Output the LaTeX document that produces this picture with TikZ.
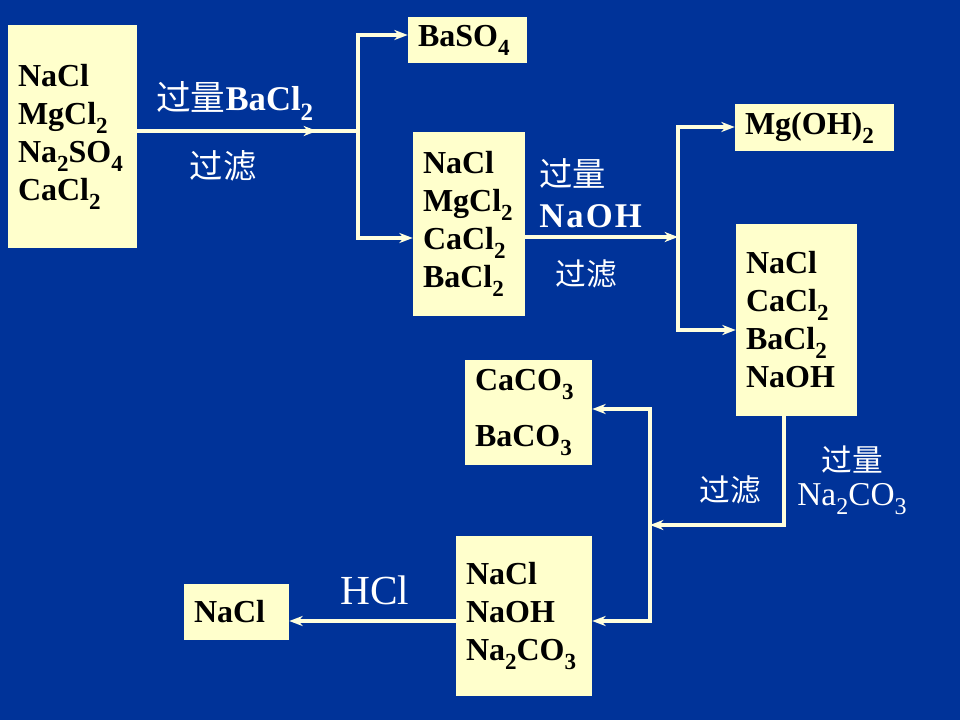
\documentclass[tikz,border=0pt]{standalone}
\usepackage{fontspec}
\usepackage{graphicx}
\setmainfont{Liberation Serif}
\newfontfamily\cjk{Noto Sans CJK SC}
\usetikzlibrary{arrows.meta}
\definecolor{bg}{HTML}{003399}
\definecolor{boxc}{HTML}{FFFFCC}
\definecolor{linec}{HTML}{FFFFDD}
\newcommand{\zh}[1]{{\cjk\mdseries #1}}
\newcommand{\sbs}[1]{\raisebox{-0.28em}{\scalebox{0.72}{#1}}}
\begin{document}
\begin{tikzpicture}[x=0.75pt,y=-0.75pt,
  box/.style={fill=boxc, draw=none, inner xsep=7.5pt, inner ysep=0pt, align=left,
    font=\fontsize{24}{28.5}\selectfont\bfseries, text=black},
  lbl/.style={text=white, inner sep=0pt, font=\fontsize{25}{30}\selectfont\bfseries},
  conn/.style={draw=linec, line width=2.8pt},
  arr/.style={conn, -{Stealth[length=10pt,width=7.5pt,inset=3pt]}}]
\fill[bg] (0,0) rectangle (960,720);
\useasboundingbox (0,0) rectangle (960,720);

% boxes
\node[box, minimum width=96.75pt, text width=81.75pt, minimum height=167.25pt] (A) at (72.5,136.5)
  {NaCl\\MgCl\sbs{2}\\Na\sbs{2}SO\sbs{4}\\CaCl\sbs{2}};
\node[box, minimum width=89.25pt, text width=74.25pt, minimum height=34.5pt] (S) at (467.5,40)
  {BaSO\sbs{4}};
\node[box, minimum width=84pt, text width=69pt, minimum height=138pt] (B) at (469,224)
  {NaCl\\MgCl\sbs{2}\\CaCl\sbs{2}\\BaCl\sbs{2}};
\node[box, minimum width=119.25pt, text width=104.25pt, minimum height=35.25pt] (M) at (814.5,127.5)
  {Mg(OH)\sbs{2}};
\node[box, minimum width=90.75pt, text width=75.75pt, minimum height=144pt] (C) at (796.5,320)
  {NaCl\\CaCl\sbs{2}\\BaCl\sbs{2}\\NaOH};
\node[box, minimum width=95.25pt, text width=80.25pt, minimum height=78.75pt,
  font=\fontsize{24}{42}\selectfont\bfseries] (P) at (528.5,412.5)
  {CaCO\sbs{3}\\BaCO\sbs{3}};
\node[box, minimum width=102pt, text width=87pt, minimum height=120pt] (D) at (524,616)
  {NaCl\\NaOH\\Na\sbs{2}CO\sbs{3}};
\node[box, minimum width=78.75pt, text width=63.75pt, minimum height=42pt] (N) at (236.5,612)
  {NaCl};

% junctions
\coordinate (j1) at (358,131);
\coordinate (a1) at (317,131);
\coordinate (j1t) at (358,35);
\coordinate (j1b) at (358,238);
\coordinate (j2) at (678,237);
\coordinate (j2t) at (678,127);
\coordinate (j2b) at (678,330);
\coordinate (c1) at (784,525);
\coordinate (j3) at (650,525);
\coordinate (j3t) at (650,409);
\coordinate (j3b) at (650,621);

% connectors
\draw[conn] (A.east |- j1) -- (j1);
\draw[arr] (A.east |- j1) -- (a1);
\draw[conn, line cap=rect] (j1t) -- (j1b);
\draw[arr] (j1t) -- (S.west |- j1t);
\draw[arr] (j1b) -- (B.west |- j1b);

\draw[arr] (B.east |- j2) -- (j2);
\draw[conn, line cap=rect] (j2t) -- (j2b);
\draw[arr] (j2t) -- (M.west |- j2t);
\draw[arr] (j2b) -- (C.west |- j2b);

\draw[arr] (C.south -| c1) -- (c1) -- (j3);
\draw[conn, line cap=rect] (j3t) -- (j3b);
\draw[arr] (j3t) -- (P.east |- j3t);
\draw[arr] (j3b) -- (D.east |- j3b);

\draw[arr] (D.west |- j3b) -- (N.east |- j3b);

% labels
\node[lbl, anchor=base west, font=\fontsize{26}{30}\selectfont\bfseries] (l1) at (156,111) {\zh{过量}BaCl\sbs{2}};
\node[lbl] (l2) at (223,166) {\zh{过滤}};
\node[lbl, anchor=west] (l3) at (539,174) {\zh{过量}};
\node[lbl, anchor=base west, font=\fontsize{26}{30}\selectfont\bfseries\addfontfeature{LetterSpace=6}] (l4) at (539,228) {NaOH};
\node[lbl, font=\fontsize{23}{28}\selectfont] (l5) at (586,274) {\zh{过滤}};
\node[lbl, font=\fontsize{23}{28}\selectfont] (l6) at (852,460) {\zh{过量}};
\node[lbl, anchor=base, font=\fontsize{25}{30}\selectfont] (l7) at (852,505) {Na\sbs{2}CO\sbs{3}};
\node[lbl, font=\fontsize{23}{28}\selectfont] (l8) at (730,490) {\zh{过滤}};
\node[lbl, anchor=base west, font=\fontsize{31}{36}\selectfont] (l9) at (340,604) {HCl};
\end{tikzpicture}
\end{document}
